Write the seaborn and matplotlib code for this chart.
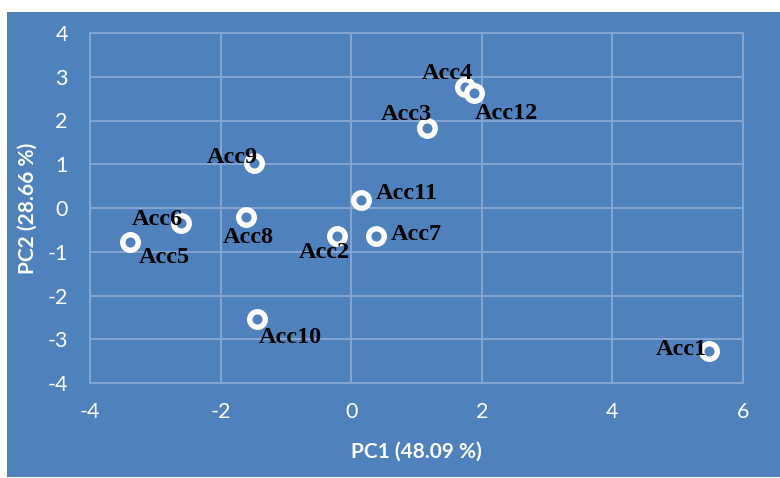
import matplotlib
matplotlib.use("Agg")
import matplotlib.pyplot as plt
import seaborn as sns
import pandas as pd
from matplotlib.patches import Rectangle

# PCA scores of the twelve accessions
accessions = ["Acc1", "Acc2", "Acc3", "Acc4", "Acc5", "Acc6",
              "Acc7", "Acc8", "Acc9", "Acc10", "Acc11", "Acc12"]
pc1 = [5.48, -0.22, 1.16, 1.74, -3.39, -2.61, 0.38, -1.61, -1.49, -1.44, 0.15, 1.88]
pc2 = [-3.27, -0.64, 1.83, 2.77, -0.78, -0.34, -0.64, -0.21, 1.03, -2.54, 0.18, 2.63]

x_ticks = [-4, -2, 0, 2, 4, 6]
y_ticks = [-4, -3, -2, -1, 0, 1, 2, 3, 4]
x_title = "PC1 (48.09 %)"
y_title = "PC2 (28.66 %)"

df = pd.DataFrame({"accession": accessions, "PC1": pc1, "PC2": pc2})

# label placement (pixel offsets from each point, label centre)
label_offsets = {
    "Acc1": (-28, 2), "Acc2": (-13, -16), "Acc3": (-21, 13), "Acc4": (-17, 13),
    "Acc5": (34, -15), "Acc6": (-23, 3), "Acc7": (40, 1), "Acc8": (2, -20),
    "Acc9": (-22, 5), "Acc10": (33, -18), "Acc11": (46, 7), "Acc12": (32, -21),
}

BG = "#4F81BD"
GRID = "#86A6D3"

sns.set_theme(style="white")
plt.rcParams["font.family"] = ["Lato", "DejaVu Sans"]

W, H = 780, 478
fig = plt.figure(figsize=(W / 100, H / 100), dpi=100, facecolor="white")

# blue chart area panel, drawn beneath the axes
panel = Rectangle((7 / W, 1 - 477 / H), 1 - 7 / W, (477 - 12) / H,
                  transform=fig.transFigure, facecolor=BG,
                  edgecolor="none", zorder=-10)
fig.patches.append(panel)

ax = fig.add_axes([90 / W, 1 - 383 / H, (743 - 90) / W, (383 - 33) / H])
ax.set_facecolor(BG)

sns.scatterplot(data=df, x="PC1", y="PC2", ax=ax, s=125, marker="o",
                facecolor=BG, edgecolor="white", linewidth=3.9, zorder=3,
                clip_on=False)

for name, x, y in zip(accessions, pc1, pc2):
    dx, dy = label_offsets[name]
    ax.annotate(name, (x, y), xytext=(dx, dy), textcoords="offset pixels",
                ha="center", va="center", fontsize=17.5, fontweight="bold",
                family=["Liberation Serif", "DejaVu Serif"], color="black",
                zorder=4)

ax.set_xlim(-4, 6)
ax.set_ylim(-4, 4)
ax.set_xticks(x_ticks)
ax.set_yticks(y_ticks)
ax.set_xticklabels([str(t) for t in x_ticks])
ax.set_yticklabels([str(t) for t in y_ticks])
ax.grid(True, color=GRID, linewidth=1.4)
ax.set_axisbelow(True)
for side in ["left", "right", "top", "bottom"]:
    ax.spines[side].set_visible(True)
    ax.spines[side].set_color(GRID)
    ax.spines[side].set_linewidth(1.4)
ax.tick_params(axis="both", length=0, colors="white", labelsize=15.5)
ax.tick_params(axis="x", pad=14)
ax.tick_params(axis="y", pad=16)

ax.set_xlabel(x_title, color="white", fontsize=15, fontweight="bold", labelpad=14)
ax.set_ylabel(y_title, color="white", fontsize=15, fontweight="bold", labelpad=7)

fig.savefig("out.png", dpi=100, facecolor="white")
